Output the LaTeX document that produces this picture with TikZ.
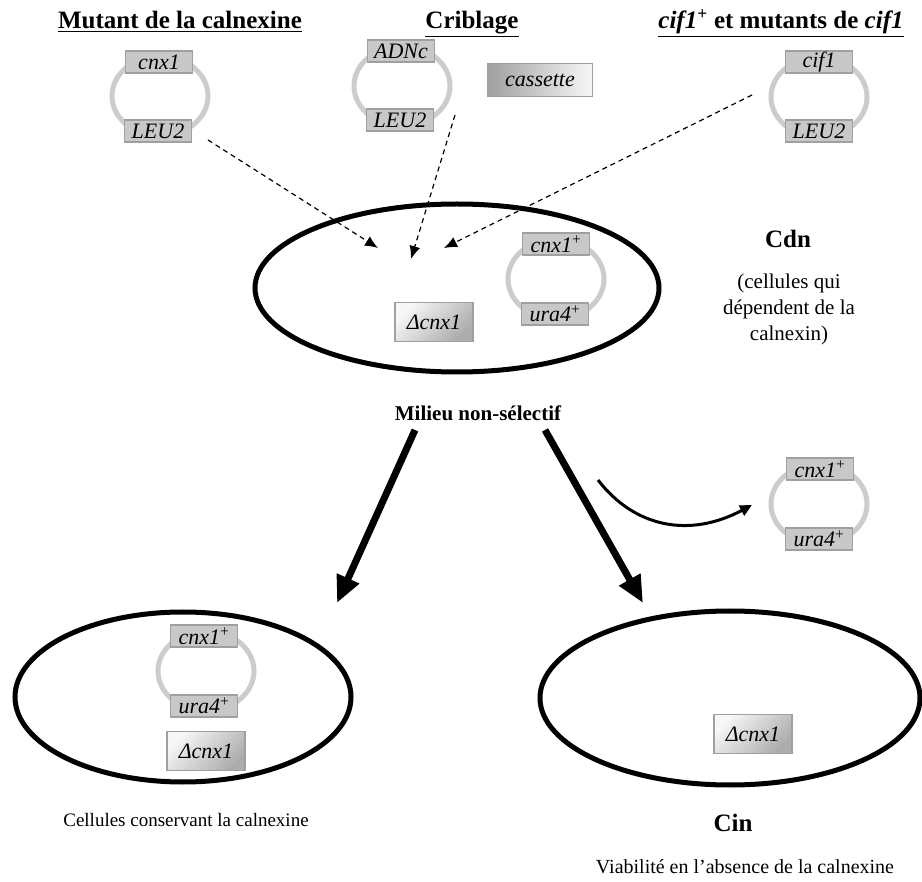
\documentclass[tikz,border=0pt]{standalone}
\usepackage{fontspec}
\setmainfont{Liberation Serif}
\usetikzlibrary{shapes.geometric,arrows.meta}
\definecolor{ringgray}{RGB}{204,204,204}
\definecolor{boxgray}{RGB}{200,200,200}
\definecolor{edgegray}{RGB}{160,160,160}
\newcommand{\supplus}{\textsuperscript{\upshape+}}

\begin{document}
\begin{tikzpicture}[x=1pt,y=-1pt,
  gene/.style={draw=edgegray, line width=1.2pt, fill=boxgray, minimum width=67pt, minimum height=22pt, inner sep=0pt, font=\fontsize{22}{22}\selectfont\itshape},
  ring/.style={draw=ringgray, line width=5pt},
  cell/.style={draw, ellipse, line width=5pt, inner sep=0pt},
  delbox/.style={draw=edgegray, line width=1.2pt, minimum width=78pt, minimum height=39pt, inner sep=0pt, top color=gray!6, bottom color=gray!65, shading angle=45, font=\fontsize{22}{22}\selectfont\itshape},
  title/.style={font=\fontsize{25}{30}\selectfont\bfseries, anchor=base},
  caption/.style={font=\fontsize{21}{26}\selectfont, align=center},
  dasharrow/.style={-{Latex[length=13pt,width=11pt]}, line width=1.2pt, dash pattern=on 5pt off 4pt},
  bigarrow/.style={-{Triangle[length=27pt,width=23pt]}, line width=7pt}]
\useasboundingbox (0,0) rectangle (922,882);

% titles
\node[title] (tmut) at (180,29) {\underline{Mutant de la calnexine}};
\node[title] (tcrb) at (472,29) {\underline{Criblage}};
\node[title] (tcif) at (781,29) {\underline{\textit{cif1}\supplus{} et mutants de \textit{cif1}}};

% plasmids on top
\coordinate (mutring) at (160,96);
\draw[ring] (mutring) ellipse [x radius=48pt, y radius=40pt];
\node[gene] (mutcnx) at (159,62) {cnx1};
\node[gene] (mutleu) at (158,131) {LEU2};

\coordinate (crbring) at (402,86);
\draw[ring] (crbring) ellipse [x radius=48pt, y radius=40pt];
\node[gene] (crbadn) at (401,51) {ADNc};
\node[gene] (crbleu) at (400,120) {LEU2};
\node[draw=edgegray, line width=1.2pt, minimum width=105pt, minimum height=33pt, inner sep=0pt, left color=gray!75, right color=gray!6, font=\fontsize{22}{22}\selectfont\itshape] (cass) at (540,80) {cassette};

\coordinate (cifring) at (819,97);
\draw[ring] (cifring) ellipse [x radius=48pt, y radius=40pt];
\node[gene] (cifgene) at (819,62) {cif1};
\node[gene] (cifleu) at (819,131) {LEU2};

% Cdn cell
\node[cell, minimum width=404pt, minimum height=168pt] (cdn) at (457,288) {};
\coordinate (cdnring) at (556,279);
\draw[ring] (cdnring) ellipse [x radius=48pt, y radius=40pt];
\node[gene] (cdncnx) at (556,244) {cnx1\supplus};
\node[gene] (cdnura) at (555,314) {ura4\supplus};
\node[delbox] (cdndel) at (434,322) {Δcnx1};

\node[title] (cdnname) at (788,248) {Cdn};
\node[caption] (cdntext) at (789,309) {(cellules qui\\dépendent de la\\calnexin)};

\coordinate (mutout) at (208,140);
\coordinate (mutin) at (378,248);
\coordinate (crbout) at (455,115);
\coordinate (crbin) at (411,259);
\coordinate (cifout) at (752,95);
\coordinate (cifin) at (444,248);
\draw[dasharrow] (mutout) -- (mutin);
\draw[dasharrow] (crbout) -- (crbin);
\draw[dasharrow] (cifout) -- (cifin);

% non-selective medium
\node[font=\fontsize{21}{21}\selectfont\bfseries, anchor=base] (milieu) at (478,421) {Milieu non-sélectif};
\coordinate (keepout) at (415,430);
\coordinate (keepin) at (337,603);
\coordinate (cinout) at (545,430);
\coordinate (cinin) at (643,603);
\draw[bigarrow] (keepout) -- (keepin);
\draw[bigarrow] (cinout) -- (cinin);

% lost plasmid
\coordinate (lostring) at (819,504);
\draw[ring] (lostring) ellipse [x radius=48pt, y radius=40pt];
\node[gene] (lostcnx) at (820,469) {cnx1\supplus};
\node[gene] (lostura) at (819,539) {ura4\supplus};
\coordinate (lossout) at (598,480);
\coordinate (lossin) at (752,505);
\draw[-{Triangle[length=12pt,width=11pt]}, line width=3pt] (lossout) .. controls (635,528) and (690,538) .. (lossin);

% bottom cells
\node[cell, minimum width=336pt, minimum height=170pt] (keep) at (183,697) {};
\coordinate (keepring) at (206,671);
\draw[ring] (keepring) ellipse [x radius=48pt, y radius=40pt];
\node[gene] (keepcnx) at (204,636) {cnx1\supplus};
\node[gene] (keepura) at (204,706) {ura4\supplus};
\node[delbox] (keepdel) at (206,751) {Δcnx1};
\node[caption, anchor=base, font=\fontsize{19}{24}\selectfont] (keeptext) at (186,826) {Cellules conservant la calnexine};

\node[cell, minimum width=380pt, minimum height=174pt] (cin) at (730,698) {};
\node[delbox] (cindel) at (753,734) {Δcnx1};
\node[title] (cinname) at (733,831) {Cin};
\node[caption, anchor=base, font=\fontsize{20}{24}\selectfont] (cintext) at (745,873) {Viabilité en l’absence de la calnexine};
\end{tikzpicture}
\end{document}
